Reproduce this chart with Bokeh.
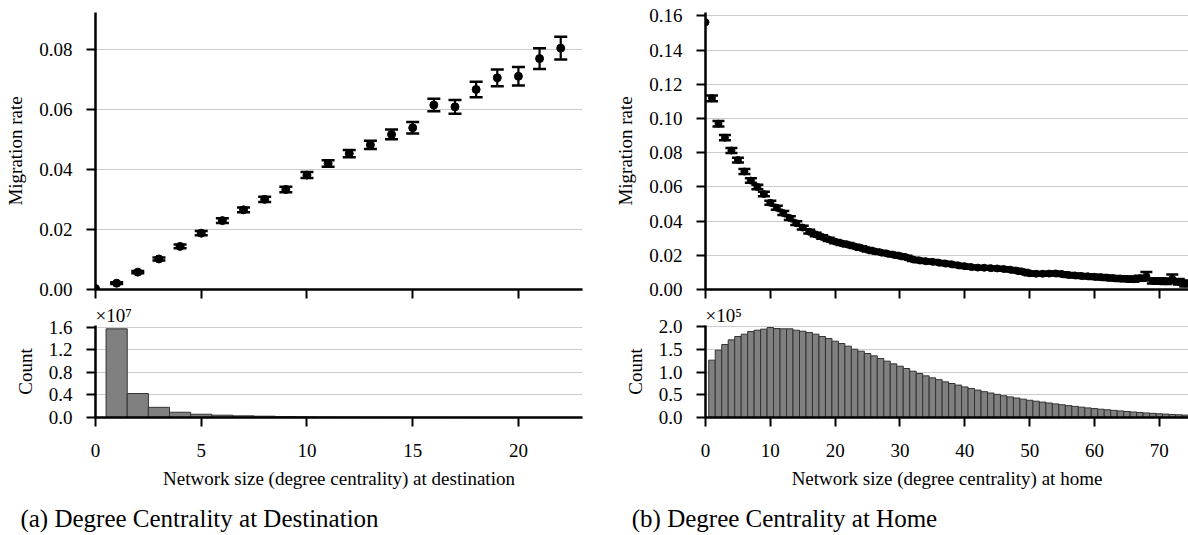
from bokeh.plotting import figure
from bokeh.layouts import column, row
from bokeh.models import (ColumnDataSource, Whisker, TeeHead, FixedTicker,
                          PrintfTickFormatter, Range1d, Label)
from bokeh.embed import file_html
from bokeh.resources import INLINE

FONT = "Liberation Serif"

# ---------------- Panel (a): degree centrality at destination ----------------
dest_size = list(range(0, 23))
dest_rate = [0.0003, 0.0021, 0.0058, 0.0102, 0.0144, 0.0188, 0.0230, 0.0266,
             0.0301, 0.0334, 0.0382, 0.0421, 0.0454, 0.0483, 0.0518, 0.0540,
             0.0616, 0.0610, 0.0668, 0.0707, 0.0712, 0.0771, 0.0806]
dest_err = [0.0, 0.0003, 0.0004, 0.0005, 0.0006, 0.0007, 0.0008, 0.0008,
            0.0009, 0.0009, 0.0010, 0.0011, 0.0012, 0.0014, 0.0016, 0.0019,
            0.0021, 0.0023, 0.0026, 0.0028, 0.0031, 0.0035, 0.0038]
dest_bins = list(range(1, 23))
dest_count = [1.571e7, 0.425e7, 0.180e7, 0.093e7, 0.058e7, 0.041e7, 0.029e7,
              0.023e7, 0.015e7, 0.011e7, 0.008e7, 0.006e7, 0.0045e7, 0.0035e7,
              0.0025e7, 0.002e7, 0.0015e7, 0.001e7, 0.0008e7, 0.0006e7,
              0.0005e7, 0.0003e7]
dest_xticks = [0, 5, 10, 15, 20]
dest_rate_ticks = [0.0, 0.02, 0.04, 0.06, 0.08]
dest_count_ticks = [0.0, 0.4, 0.8, 1.2, 1.6]   # x 1e7

# ---------------- Panel (b): degree centrality at home ----------------
home_size = list(range(0, 75))
home_rate = [0.1563, 0.1118, 0.0970, 0.0888, 0.0813, 0.0757, 0.0690, 0.0637,
             0.0600, 0.0558, 0.0507, 0.0478, 0.0447, 0.0418, 0.0388, 0.0362,
             0.0338, 0.0322, 0.0307, 0.0293, 0.0280, 0.0270, 0.0262, 0.0252,
             0.0243, 0.0232, 0.0224, 0.0217, 0.0210, 0.0203, 0.0196, 0.0188,
             0.0176, 0.0170, 0.0165, 0.0162, 0.0157, 0.0152, 0.0147, 0.0141,
             0.0136, 0.0131, 0.0128, 0.0127, 0.0125, 0.0123, 0.0120, 0.0116,
             0.0110, 0.0103, 0.0095, 0.0092, 0.0092, 0.0093, 0.0094, 0.0090,
             0.0085, 0.0082, 0.0079, 0.0077, 0.0074, 0.0072, 0.0069, 0.0066,
             0.0064, 0.0062, 0.0060, 0.0066, 0.0078, 0.0050, 0.0049, 0.0048,
             0.0062, 0.0045, 0.0035]
home_err = [0.0, 0.0017, 0.0016, 0.0015, 0.0015, 0.0014, 0.0014, 0.0013,
            0.0013, 0.0013, 0.0012, 0.0012, 0.0012, 0.0011, 0.0011, 0.0011,
            0.0011, 0.0010, 0.0010, 0.0010, 0.0010, 0.0010, 0.0010, 0.0010,
            0.0010, 0.0010, 0.0010, 0.0010, 0.0010, 0.0010, 0.0010, 0.0010,
            0.0010, 0.0010, 0.0010, 0.0010, 0.0010, 0.0010, 0.0010, 0.0010,
            0.0010, 0.0010, 0.0010, 0.0010, 0.0010, 0.0010, 0.0010, 0.0010,
            0.0011, 0.0011, 0.0011, 0.0011, 0.0011, 0.0011, 0.0011, 0.0011,
            0.0012, 0.0012, 0.0012, 0.0012, 0.0012, 0.0013, 0.0013, 0.0013,
            0.0014, 0.0014, 0.0014, 0.0015, 0.0025, 0.0015, 0.0015, 0.0016,
            0.0025, 0.0016, 0.0017]
home_bins = list(range(1, 75))
home_count = [1.265e5, 1.485e5, 1.610e5, 1.713e5, 1.787e5, 1.838e5, 1.897e5,
              1.926e5, 1.949e5, 1.985e5, 1.963e5, 1.956e5, 1.956e5, 1.926e5,
              1.904e5, 1.875e5, 1.838e5, 1.787e5, 1.743e5, 1.684e5, 1.632e5,
              1.574e5, 1.507e5, 1.463e5, 1.412e5, 1.360e5, 1.301e5, 1.243e5,
              1.184e5, 1.132e5, 1.081e5, 1.022e5, 0.971e5, 0.919e5, 0.875e5,
              0.835e5, 0.787e5, 0.750e5, 0.715e5, 0.675e5, 0.640e5, 0.605e5,
              0.570e5, 0.540e5, 0.510e5, 0.480e5, 0.455e5, 0.430e5, 0.405e5,
              0.380e5, 0.360e5, 0.340e5, 0.320e5, 0.300e5, 0.280e5, 0.262e5,
              0.245e5, 0.228e5, 0.212e5, 0.197e5, 0.183e5, 0.170e5, 0.157e5,
              0.145e5, 0.133e5, 0.122e5, 0.111e5, 0.101e5, 0.092e5, 0.083e5,
              0.075e5, 0.067e5, 0.060e5, 0.053e5]
home_xticks = [0, 10, 20, 30, 40, 50, 60, 70]
home_rate_ticks = [0.0, 0.02, 0.04, 0.06, 0.08, 0.10, 0.12, 0.14, 0.16]
home_count_ticks = [0.0, 0.5, 1.0, 1.5, 2.0]   # x 1e5

x_title_a = "Network size (degree centrality) at destination"
x_title_b = "Network size (degree centrality) at home"
caption_a = "(a) Degree Centrality at Destination"
caption_b = "(b) Degree Centrality at Home"


def style(p):
    p.outline_line_color = None
    p.xgrid.visible = False
    p.ygrid.grid_line_color = "#cccccc"
    p.ygrid.grid_line_width = 1
    for ax in p.axis:
        ax.axis_line_width = 2.5
        ax.axis_line_color = "black"
        ax.major_tick_line_width = 2
        ax.major_tick_line_color = "black"
        ax.major_tick_out = 9
        ax.major_tick_in = 0
        ax.minor_tick_out = 0
        ax.minor_tick_in = 0
        ax.major_label_text_font = FONT
        ax.major_label_text_font_size = "19px"
        ax.major_label_text_color = "black"
        ax.axis_label_text_font = FONT
        ax.axis_label_text_font_size = "19px"
        ax.axis_label_text_font_style = "normal"
        ax.axis_label_text_color = "black"
    p.yaxis.major_label_standoff = 14
    p.yaxis.axis_label_standoff = 10
    p.xaxis.major_label_standoff = 17
    p.xaxis.axis_label_standoff = 8


def rate_panel(xs, ys, errs, xend, yend, xticks, yticks, w, bl, br, cap, msize):
    p = figure(width=w, height=302, x_range=Range1d(0, xend),
               y_range=Range1d(0, yend), output_backend="svg",
               toolbar_location=None, min_border_left=bl, min_border_right=br,
               min_border_top=12, min_border_bottom=13)
    src = ColumnDataSource(dict(x=xs, y=ys))
    wx = [x for x, e in zip(xs, errs) if e > 0]
    wlo = [y - e for y, e in zip(ys, errs) if e > 0]
    whi = [y + e for y, e in zip(ys, errs) if e > 0]
    wsrc = ColumnDataSource(dict(x=wx, lo=wlo, hi=whi))
    wk = Whisker(base="x", lower="lo", upper="hi", source=wsrc,
                 dimension="height", line_width=2.2, line_color="black",
                 upper_head=TeeHead(size=cap, line_width=2.5, line_color="black"),
                 lower_head=TeeHead(size=cap, line_width=2.5, line_color="black"))
    p.add_layout(wk)
    p.scatter("x", "y", source=src, size=msize, color="black")
    style(p)
    p.xaxis.ticker = FixedTicker(ticks=xticks)
    p.xaxis.major_label_overrides = {t: "" for t in xticks}
    p.xaxis.major_label_standoff = 0
    p.yaxis.ticker = FixedTicker(ticks=yticks)
    p.yaxis.formatter = PrintfTickFormatter(format="%.2f")
    p.yaxis.axis_label = "Migration rate"
    return p


def count_panel(bins, counts, scale, xend, yend, xticks, yticks, w, bl, br,
                xtitle, exp_text):
    p = figure(width=w, height=195, x_range=Range1d(0, xend),
               y_range=Range1d(0, yend), output_backend="svg",
               toolbar_location=None, min_border_left=bl, min_border_right=br,
               min_border_top=23, min_border_bottom=80)
    src = ColumnDataSource(dict(x=bins, top=[c / scale for c in counts]))
    p.vbar(x="x", top="top", width=1.0, source=src, fill_color="#808080",
           line_color="#333333", line_width=1)
    style(p)
    p.xaxis.ticker = FixedTicker(ticks=xticks)
    p.yaxis.ticker = FixedTicker(ticks=yticks)
    p.yaxis.formatter = PrintfTickFormatter(format="%.1f")
    p.yaxis.axis_label = "Count"
    p.xaxis.axis_label = xtitle
    p.title.text = exp_text
    p.title.align = "left"
    p.title.text_font = FONT
    p.title.text_font_size = "19px"
    p.title.text_font_style = "normal"
    p.title.text_color = "black"
    p.title.standoff = 0
    return p


lt = rate_panel(dest_size, dest_rate, dest_err, 23.03, 0.0925, dest_xticks,
                dest_rate_ticks, 600, 95, 18, 13, 8)
rt = rate_panel(home_size, home_rate, home_err, 74.5, 0.162, home_xticks,
                home_rate_ticks, 588, 105, 0, 12, 7)
lb = count_panel(dest_bins, dest_count, 1e7, 23.03, 1.63, dest_xticks,
                 dest_count_ticks, 600, 95, 18, x_title_a, "\u00d710\u2077")
rb = count_panel(home_bins, home_count, 1e5, 74.5, 2.03, home_xticks,
                 home_count_ticks, 588, 105, 0, x_title_b, "\u00d710\u2075")

cap = figure(width=1188, height=38, x_range=Range1d(0, 1188),
             y_range=Range1d(0, 38), output_backend="svg",
             toolbar_location=None, min_border=0)
cap.axis.visible = False
cap.grid.visible = False
cap.outline_line_color = None
cap.add_layout(Label(x=199, y=17, text=caption_a, text_font=FONT,
                     text_font_size="25px", text_align="center",
                     text_baseline="middle", text_color="black"))
cap.add_layout(Label(x=784, y=17, text=caption_b, text_font=FONT,
                     text_font_size="25px", text_align="center",
                     text_baseline="middle", text_color="black"))

layout = column(row(lt, rt), row(lb, rb), cap)
open("out.html", "w").write(file_html(layout, INLINE))
